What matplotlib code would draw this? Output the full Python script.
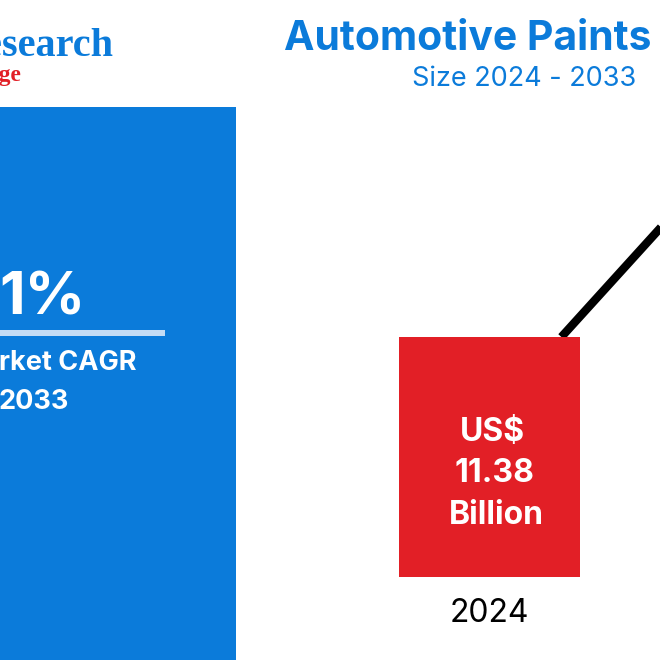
#!/usr/bin/env python3
"""Automotive paints market size graphic"""

import matplotlib
matplotlib.use("Agg")
import matplotlib.pyplot as plt
import matplotlib.patches as patches

# Data
YEARS = ["2024"]
SIZES = [11.38]
BAR_LABELS = ["US$", "11.38", "Billion"]
# growth line, leaves the bar and runs off the right edge
LINE_X = [0.40, 1.10]
LINE_Y = [11.38, 18.0]

TITLE = "Automotive Paints"
SUBTITLE = "Size 2024 - 2033"
CAGR_VALUE = "1%"
CAGR_LINE1 = "Market CAGR"
CAGR_LINE2 = "2033"
BRAND_TOP = "Research"
BRAND_BOTTOM = "Knowledge"

BLUE = "#0B7BDA"
RED = "#E21F26"
FONT = "Inter"

plt.rcParams["font.family"] = [FONT, "DejaVu Sans"]

fig = plt.figure(figsize=(6.6, 6.6), dpi=100, facecolor="white")

# pixel layer for the panel and the text
px = fig.add_axes([0, 0, 1, 1])
px.set_xlim(0, 660)
px.set_ylim(660, 0)
px.axis("off")

px.add_patch(patches.Rectangle((0, 107), 236, 553, facecolor=BLUE, edgecolor="none"))
px.add_patch(patches.Rectangle((0, 330), 165, 6, facecolor="#C4DCF5", edgecolor="none"))

px.text(86, 299, CAGR_VALUE, color="white", fontsize=43, fontweight="bold", ha="right", va="center")
px.text(136, 363, CAGR_LINE1, color="white", fontsize=19.5, fontweight="bold", ha="right", va="center")
px.text(69, 402, CAGR_LINE2, color="white", fontsize=19.5, fontweight="bold", ha="right", va="center")

px.text(113, 47, BRAND_TOP, color=BLUE, fontsize=29, fontweight="bold", family=["Liberation Serif"],
        ha="right", va="center")
px.text(21, 76, BRAND_BOTTOM, color=RED, fontsize=17, fontweight="bold", family=["Liberation Serif"],
        ha="right", va="center")

px.text(284, 39, TITLE, color=BLUE, fontsize=29.4, fontweight="bold", ha="left", va="center")
px.text(412, 79, SUBTITLE, color=BLUE, fontsize=19.5, ha="left", va="center")

# chart layer, bar is 181px wide and 21.09px per billion, baseline at y=577
ax = fig.add_axes([0, 0, 1, 1], facecolor="none")
ax.set_xlim(-489 / 181, 171 / 181)
ax.set_ylim(-83 / 21.09, 577 / 21.09)
ax.axis("off")

ax.plot(LINE_X, LINE_Y, color="black", linewidth=6, solid_capstyle="butt", zorder=1)
ax.bar(range(len(SIZES)), SIZES, width=1.0, color=RED, zorder=2)

# one label per line, they are not quite centred in the original
px_per_unit = 21.09
for label, offset_y, offset_x in zip(BAR_LABELS, [145, 103, 61], [0.017, 0.033, 0.039]):
    ax.text(offset_x, offset_y / px_per_unit, label, color="white", fontsize=23, fontweight="bold",
            ha="center", va="center", zorder=3)
ax.text(0, -37 / px_per_unit, YEARS[0], color="black", fontsize=23, ha="center", va="center")

fig.savefig("out.png", dpi=100)
